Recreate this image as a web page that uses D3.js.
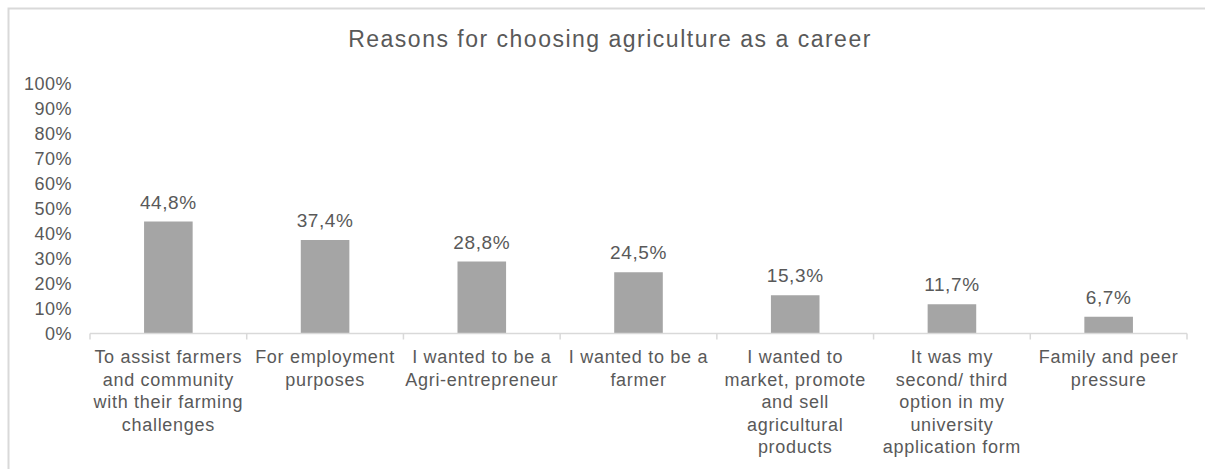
<!DOCTYPE html>
<html>
<head>
<meta charset="utf-8">
<script src="https://cdn.jsdelivr.net/npm/d3@7"></script>
<style>
  body { margin: 0; background: #fff; }
  text { font-family: "Liberation Sans", Arial, sans-serif; fill: #595959; }
</style>
</head>
<body>
<svg id="chart" width="1205" height="469"></svg>
<script>
// categories are kept as the wrapped lines shown under each bar
const categories = [
  ['To assist farmers', 'and community', 'with their farming', 'challenges'],
  ['For employment', 'purposes'],
  ['I wanted to be a', 'Agri-entrepreneur'],
  ['I wanted to be a', 'farmer'],
  ['I wanted to', 'market, promote', 'and sell', 'agricultural', 'products'],
  ['It was my', 'second/ third', 'option in my', 'university', 'application form'],
  ['Family and peer', 'pressure'],
];
const values = [44.8, 37.4, 28.8, 24.5, 15.3, 11.7, 6.7];
const yTicks = [0, 10, 20, 30, 40, 50, 60, 70, 80, 90, 100];
const title = 'Reasons for choosing agriculture as a career';

const svg = d3.select('#chart');
const margin = { left: 90, right: 18, top: 83.5, bottom: 135.5 };
const width = 1205 - margin.left - margin.right;
const height = 469 - margin.top - margin.bottom;

// outer frame, cut off on the right and bottom like the source
svg.append('rect')
  .attr('x', 8.5).attr('y', 8.5)
  .attr('width', 1300).attr('height', 600)
  .attr('fill', 'none')
  .attr('stroke', '#d9d9d9')
  .attr('stroke-width', 2);

svg.append('text')
  .attr('x', 610).attr('y', 47)
  .attr('text-anchor', 'middle')
  .style('font-size', '23px')
  .style('letter-spacing', '1.5px')
  .text(title);

const g = svg.append('g')
  .attr('transform', `translate(${margin.left},${margin.top})`);

const x = d3.scaleBand()
  .domain(d3.range(categories.length))
  .range([0, width])
  .paddingInner(0.69)
  .paddingOuter(0.345);

const xEdge = d3.scaleLinear()
  .domain([0, categories.length])
  .range([0, width]);

const y = d3.scaleLinear()
  .domain([0, 100])
  .range([height, 0]);

// y axis: labels only, no line
const yAxis = g.append('g')
  .call(d3.axisLeft(y).tickValues(yTicks).tickSize(0).tickPadding(18).tickFormat(d => d + '%'));
yAxis.select('.domain').remove();
yAxis.selectAll('text')
  .style('font-size', '18px')
  .style('letter-spacing', '0.5px')
  .attr('dy', '0.35em');

// bars
g.selectAll('.bar')
  .data(values)
  .enter().append('rect')
  .attr('class', 'bar')
  .attr('x', (d, i) => x(i))
  .attr('y', d => y(d))
  .attr('width', x.bandwidth())
  .attr('height', d => height - y(d))
  .attr('fill', '#a5a5a5');

// value labels
g.selectAll('.val')
  .data(values)
  .enter().append('text')
  .attr('class', 'val')
  .attr('x', (d, i) => x(i) + x.bandwidth() / 2)
  .attr('y', d => y(d) - 13)
  .attr('text-anchor', 'middle')
  .style('font-size', '19px')
  .style('letter-spacing', '0.6px')
  .text(d => d3.format('.1f')(d).replace('.', ',') + '%');

// x axis line and tick marks at the category boundaries
g.append('line')
  .attr('x1', 0).attr('x2', width)
  .attr('y1', height).attr('y2', height)
  .attr('stroke', '#d9d9d9').attr('stroke-width', 1.5);

g.selectAll('.tick-mark')
  .data(d3.range(categories.length + 1))
  .enter().append('line')
  .attr('class', 'tick-mark')
  .attr('x1', d => xEdge(d)).attr('x2', d => xEdge(d))
  .attr('y1', height).attr('y2', height + 6)
  .attr('stroke', '#d9d9d9').attr('stroke-width', 1.5);

// category labels
const cat = g.selectAll('.cat')
  .data(categories)
  .enter().append('text')
  .attr('class', 'cat')
  .attr('text-anchor', 'middle')
  .attr('transform', (d, i) => `translate(${x(i) + x.bandwidth() / 2},${height + 29.5})`)
  .style('font-size', '18px')
  .style('letter-spacing', '0.7px');

cat.selectAll('tspan')
  .data(d => d)
  .enter().append('tspan')
  .attr('x', 0)
  .attr('y', (d, i) => i * 22.5)
  .text(d => d);
</script>
</body>
</html>
